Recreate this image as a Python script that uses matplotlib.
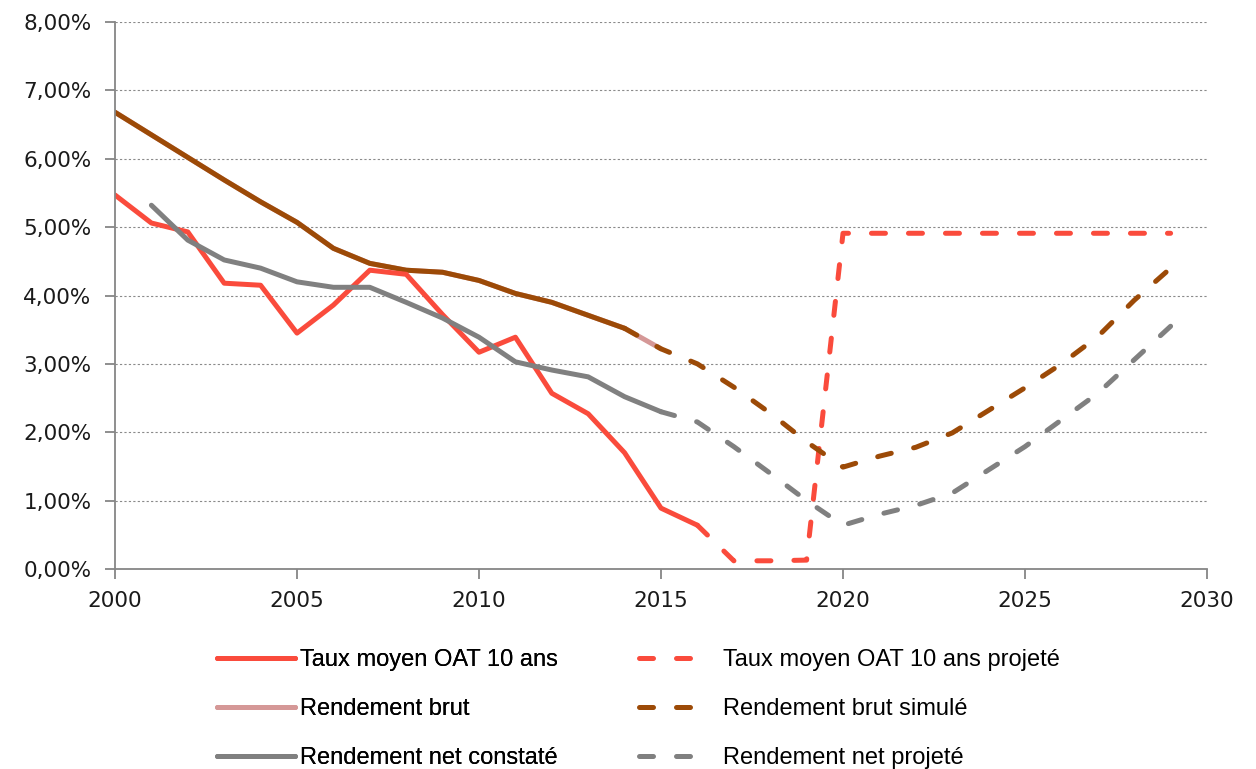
import matplotlib
matplotlib.use("Agg")
import matplotlib.pyplot as plt
from matplotlib.ticker import FuncFormatter, MultipleLocator

# --- data (values in %) ---
years_oat = list(range(2000, 2017))
oat = [5.47, 5.06, 4.93, 4.18, 4.15, 3.45, 3.86, 4.37, 4.31, 3.72,
       3.17, 3.39, 2.57, 2.27, 1.70, 0.89, 0.64]

years_oat_proj = list(range(2016, 2030))
oat_proj = [0.64, 0.12, 0.12, 0.13, 4.91, 4.91, 4.91, 4.91, 4.91, 4.91,
            4.91, 4.91, 4.91, 4.91]

years_brut = list(range(2000, 2016))
brut = [6.68, 6.35, 6.02, 5.69, 5.37, 5.07, 4.69, 4.47, 4.37, 4.34,
        4.22, 4.03, 3.90, 3.71, 3.52, 3.22]

years_brut_sim = list(range(2014, 2030))
brut_sim = [3.52, 3.22, 3.00, 2.66, 2.28, 1.86, 1.49, 1.65, 1.78, 1.99,
            2.32, 2.65, 3.00, 3.40, 3.93, 4.40]

years_net = list(range(2001, 2016))
net = [5.32, 4.81, 4.52, 4.40, 4.20, 4.12, 4.12, 3.90, 3.67, 3.39,
       3.03, 2.91, 2.81, 2.52, 2.30]

years_net_proj = list(range(2015, 2030))
net_proj = [2.30, 2.15, 1.79, 1.40, 1.00, 0.64, 0.80, 0.93, 1.11, 1.45,
            1.79, 2.18, 2.57, 3.06, 3.55]

RED = "#FA4B3C"
BROWN = "#9C4A07"
PINK = "#D59897"
GREY = "#808080"
LW = 3.6
DASH = (2.8, 4.6)

fig = plt.figure(figsize=(12.56, 7.69), dpi=100)
ax = fig.add_axes([115 / 1256, 1 - 569 / 769, (1207 - 115) / 1256, (569 - 22) / 769])

common = dict(lw=LW, solid_capstyle="round", dash_capstyle="round")

# historical series
l_brut, = ax.plot(years_brut, brut, color=PINK, label="Rendement brut", **common)
ax.plot(years_brut[:-1], brut[:-1], color=BROWN, **common)
l_oat, = ax.plot(years_oat, oat, color=RED, label="Taux moyen OAT 10 ans", **common)
l_net, = ax.plot(years_net, net, color=GREY, label="Rendement net constaté", **common)

# projections
l_oatp, = ax.plot(years_oat_proj, oat_proj, color=RED, dashes=DASH,
                  label="Taux moyen OAT 10 ans projeté", **common)
l_bsim, = ax.plot(years_brut_sim, brut_sim, color=BROWN, dashes=DASH,
                  label="Rendement brut simulé", **common)
l_netp, = ax.plot(years_net_proj, net_proj, color=GREY, dashes=DASH,
                  label="Rendement net projeté", **common)

ax.set_xlim(2000, 2030)
ax.set_ylim(0, 8)
ax.xaxis.set_major_locator(MultipleLocator(5))
ax.yaxis.set_major_locator(MultipleLocator(1))
ax.yaxis.set_major_formatter(FuncFormatter(lambda v, p: f"{v:.2f}%".replace(".", ",")))

ax.grid(axis="y", color="#8a8a8a", lw=0.8, linestyle=(0, (2, 2)))
ax.set_axisbelow(True)
for s in ("top", "right"):
    ax.spines[s].set_visible(False)
for s in ("left", "bottom"):
    ax.spines[s].set_color("#868686")
    ax.spines[s].set_linewidth(1.3)
ax.tick_params(axis="both", colors="#868686", length=7, width=1.3,
               labelcolor="#1a1a1a", labelsize=15.5)
ax.tick_params(axis="y", pad=10)
ax.tick_params(axis="x", pad=9)

legfont = dict(family="Liberation Sans", size=17)
leg1 = fig.legend([l_oat, l_brut, l_net],
                  [h.get_label() for h in (l_oat, l_brut, l_net)],
                  loc="center left", bbox_to_anchor=(217 / 1256, 1 - 709 / 769),
                  frameon=False, prop=legfont, handlelength=3.3, handletextpad=0.2,
                  labelspacing=1.15, borderpad=0, borderaxespad=0)
leg2 = fig.legend([l_oatp, l_bsim, l_netp],
                  [h.get_label() for h in (l_oatp, l_bsim, l_netp)],
                  loc="center left", bbox_to_anchor=(639 / 1256, 1 - 709 / 769),
                  frameon=False, prop=legfont, handlelength=2.7, handletextpad=0.85,
                  labelspacing=1.15, borderpad=0, borderaxespad=0)
fig.add_artist(leg1)

fig.savefig("out.png", dpi=100)
